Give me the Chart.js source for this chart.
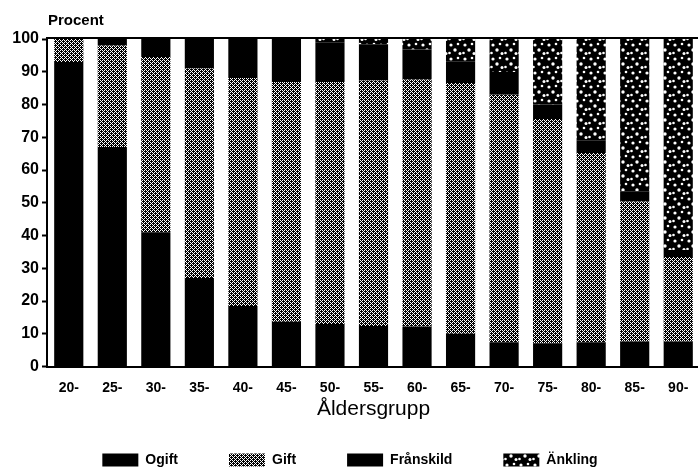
<!DOCTYPE html>
<html>
<head>
<meta charset="utf-8">
<title>Åldersgrupp</title>
<script src="https://cdn.jsdelivr.net/npm/chart.js@4/dist/chart.umd.min.js"></script>
<style>
    html, body {
        margin: 0;
        padding: 0;
        background: #ffffff;
        overflow: hidden;
    }
    canvas {
        display: block;
    }
</style>
</head>
<body>
<canvas id="civilChart" width="700" height="477"></canvas>
<script>
// ==========================================
// DATA (procent per åldersgrupp)
// ==========================================

const ageGroups = ['20-', '25-', '30-', '35-', '40-', '45-', '50-', '55-',
    '60-', '65-', '70-', '75-', '80-', '85-', '90-'];

const ogift = [93, 67, 41, 27, 18.5, 13.7, 13, 12.4, 12.2, 10, 7.4, 7.1, 7.4, 7.6, 7.6];

const gift = [7, 31, 53.5, 64, 69.6, 73.2, 73.9, 74.9, 75.4, 76.6, 75.6, 68.5, 57.8, 42.8, 25.8];

const franskild = [0, 2, 5.5, 9, 11.9, 13.1, 12.1, 11.1, 9.2, 6.6, 6.9, 4.4, 3.9, 3.1, 2.2];

const ankling = [0, 0, 0, 0, 0, 0, 1, 1.6, 3.2, 6.8, 10.1, 20, 30.9, 46.5, 64.4];

const yTicks = [0, 10, 20, 30, 40, 50, 60, 70, 80, 90, 100];

// ==========================================
// FILL PATTERNS
// ==========================================

function makeTile(size, paint) {
    const tile = document.createElement('canvas');
    tile.width = size;
    tile.height = size;
    const c = tile.getContext('2d');
    c.fillStyle = '#000000';
    c.fillRect(0, 0, size, size);
    c.fillStyle = '#ffffff';
    paint(c);
    return tile;
}

const canvas = document.getElementById('civilChart');
const ctx = canvas.getContext('2d');

// dense diagonal dither for "Gift"
const giftTile = makeTile(4, c => {
    for (let y = 0; y < 4; y++) {
        for (let x = 0; x < 4; x++) {
            const d = (x - y + 4) % 4;
            if (d === 0 || (d === 2 && x % 2 === 0)) {
                c.fillRect(x, y, 1, 1);
            }
        }
    }
});

// black with white spots for "Änkling"
const anklingTile = makeTile(14, c => {
    const dots = [[3, 3, 1.6], [10, 2, 1.3], [7, 8, 1.7], [1.5, 11, 1.3], [12, 11.5, 1.5]];
    dots.forEach(d => {
        c.beginPath();
        c.arc(d[0], d[1], d[2], 0, Math.PI * 2);
        c.fill();
    });
});

const giftFill = ctx.createPattern(giftTile, 'repeat');
const anklingFill = ctx.createPattern(anklingTile, 'repeat');

// ==========================================
// EXTRA DRAWING: top frame line + "Procent"
// ==========================================

const framePlugin = {
    id: 'frameTop',
    afterDraw(chart) {
        const c = chart.ctx;
        const area = chart.chartArea;
        c.save();
        c.strokeStyle = '#000000';
        c.lineWidth = 2;
        c.beginPath();
        c.moveTo(area.left - 1, area.top - 1);
        c.lineTo(area.right, area.top - 1);
        c.stroke();
        c.fillStyle = '#000000';
        c.font = 'bold 15px "Liberation Sans", Arial, sans-serif';
        c.textBaseline = 'middle';
        c.textAlign = 'left';
        c.fillText('Procent', 48, 21);
        c.restore();
    }
};

// ==========================================
// CHART
// ==========================================

Chart.defaults.font.family = '"Liberation Sans", Arial, sans-serif';
Chart.defaults.color = '#000000';

new Chart(canvas, {

    type: 'bar',

    data: {
        labels: ageGroups,
        datasets: [
            { label: 'Ogift', data: ogift, backgroundColor: '#000000' },
            { label: 'Gift', data: gift, backgroundColor: giftFill },
            { label: 'Frånskild', data: franskild, backgroundColor: '#000000' },
            { label: 'Änkling', data: ankling, backgroundColor: anklingFill }
        ]
    },

    options: {

        responsive: false,
        animation: false,
        devicePixelRatio: 1,

        datasets: {
            bar: {
                categoryPercentage: 1,
                barPercentage: 0.67,
                borderWidth: 0
            }
        },

        layout: {
            padding: { top: 39, left: 0, right: 0, bottom: 0 }
        },

        plugins: {
            tooltip: { enabled: false },
            legend: {
                position: 'bottom',
                labels: {
                    boxWidth: 36,
                    boxHeight: 13,
                    padding: 51,
                    color: '#000000',
                    font: { size: 14, weight: 'bold' }
                }
            }
        },

        scales: {

            x: {
                stacked: true,
                grid: { display: false },
                border: { display: true, color: '#000000', width: 2 },
                ticks: {
                    padding: 5,
                    font: { size: 14, weight: 'bold' },
                    maxRotation: 0
                },
                title: {
                    display: true,
                    text: 'Åldersgrupp',
                    font: { size: 21 },
                    padding: { top: 0, bottom: -20 }
                },
                afterFit(scale) {
                    scale.height = 35.5;
                }
            },

            y: {
                stacked: true,
                min: 0,
                max: 100,
                afterBuildTicks(scale) {
                    scale.ticks = yTicks.map(v => ({ value: v }));
                },
                grid: {
                    drawOnChartArea: false,
                    drawTicks: true,
                    tickLength: 5,
                    tickWidth: 2,
                    color: '#000000'
                },
                border: { display: true, color: '#000000', width: 2 },
                ticks: {
                    padding: 3,
                    font: { size: 16, weight: 'bold' }
                },
                afterFit(scale) {
                    scale.width = 47;
                }
            }
        }
    },

    plugins: [framePlugin]
});
</script>
</body>
</html>
